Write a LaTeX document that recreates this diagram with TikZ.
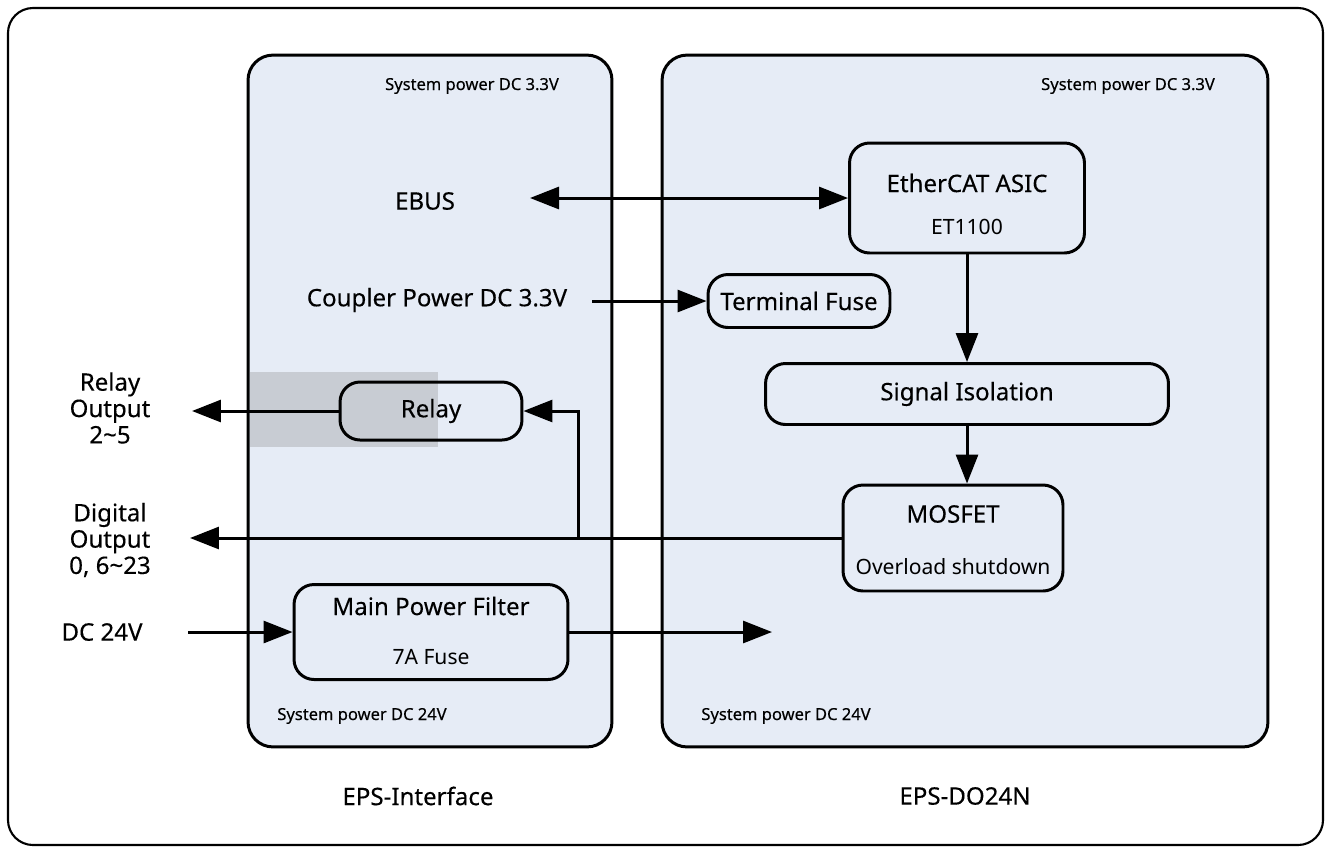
\documentclass[tikz,border=0pt]{standalone}
\usepackage{fontspec}
\setmainfont{Noto Sans}
\newfontfamily\medfont{Noto Sans}[FakeBold=0.3]
\usetikzlibrary{arrows.meta, positioning}
\definecolor{panelblue}{HTML}{E6ECF6}
\definecolor{relaygray}{HTML}{C8CCD3}

\begin{document}
\begin{tikzpicture}[
x=0.02cm, y=-0.02cm,
font=\medfont\fontsize{13.7}{15}\selectfont,
panel/.style={draw, line width=1.7pt, rounded corners=0.5cm, fill=panelblue, inner sep=0pt},
box/.style={draw, line width=1.7pt, rounded corners=0.4cm, inner sep=0pt},
sub/.style={font=\rmfamily\fontsize{12}{14}\selectfont},
tiny/.style={font=\medfont\fontsize{9.4}{11}\selectfont},
arrow/.style={-{Triangle[length=0.58cm, width=0.44cm]}, line width=1.7pt},
twoway/.style={{Triangle[length=0.58cm, width=0.44cm]}-{Triangle[length=0.58cm, width=0.44cm]}, line width=1.7pt}
]
\useasboundingbox (0,0) rectangle (1331,853);

% outer frame
\draw[line width=1.2pt, rounded corners=0.5cm] (8,8) rectangle (1323,845);

% panels
\node[panel, minimum width=7.28cm, minimum height=13.84cm] (iface) at (430,401) {};
\node[panel, minimum width=12.12cm, minimum height=13.84cm] (do24n) at (965,401) {};

\node[tiny] at (472,86) {System power DC 3.3V};
\node[tiny] at (1128,86) {System power DC 3.3V};
\node[tiny] at (362,716) {System power DC 24V};
\node[tiny] at (786,716) {System power DC 24V};

\node at (418,796) {EPS-Interface};
\node at (965,796) {EPS-DO24N};

% shaded area behind relay
\fill[relaygray] (250,372) rectangle (438,447);

% boxes
\node[box, minimum width=4.7cm, minimum height=2.2cm] (asic) at (967,198) {};
\node at (967,183) {EtherCAT ASIC};
\node[sub] at (967,227) {ET1100};

\node[box, minimum width=3.64cm, minimum height=1.06cm] (fuse) at (799,301) {Terminal Fuse};

\node[box, minimum width=8.06cm, minimum height=1.22cm] (sig) at (967,394) {Signal Isolation};

\node[box, minimum width=4.4cm, minimum height=2.12cm] (mosfet) at (953,538) {};
\node at (953,514) {MOSFET};
\node[sub] at (953,567) {Overload shutdown};

\node[box, minimum width=3.64cm, minimum height=1.16cm] (relay) at (431,411) {Relay};

\node[box, minimum width=5.48cm, minimum height=1.9cm] (filter) at (431,632) {};
\node at (431,606) {Main Power Filter};
\node[sub] at (431,657) {7A Fuse};

% outside labels
\node (ebus) at (425,201) {EBUS};
\node (coupler) at (437,300) {Coupler Power DC 3.3V};
\node[align=center] (relayout) at (110,408) {Relay\\Output\\2\textasciitilde 5};
\node[align=center] (digout) at (110,540) {Digital\\Output\\0, 6\textasciitilde 23};
\node (dc) at (102,632) {DC 24V};

\coordinate (ebusend) at (530,198);
\coordinate (couplerend) at (592,301);
\coordinate (relaytip) at (192,411);
\coordinate (digtip) at (190,538);
\coordinate (branch) at (578,538);
\coordinate (dcstart) at (188,632);
\coordinate (powertip) at (772,632);

% connectors
\draw[twoway] (ebusend) -- (asic.west);
\draw[arrow] (couplerend) -- (fuse.west);
\draw[arrow] (asic.south) -- (sig.north);
\draw[arrow] (sig.south) -- (sig.south |- mosfet.north);
\draw[arrow] (relay.west) -- (relaytip);
\draw[arrow] (mosfet.west) -- (digtip);
\draw[arrow] (branch) |- (relay.east);
\draw[arrow] (dcstart) -- (filter.west);
\draw[arrow] (filter.east) -- (powertip);

\end{tikzpicture}
\end{document}
